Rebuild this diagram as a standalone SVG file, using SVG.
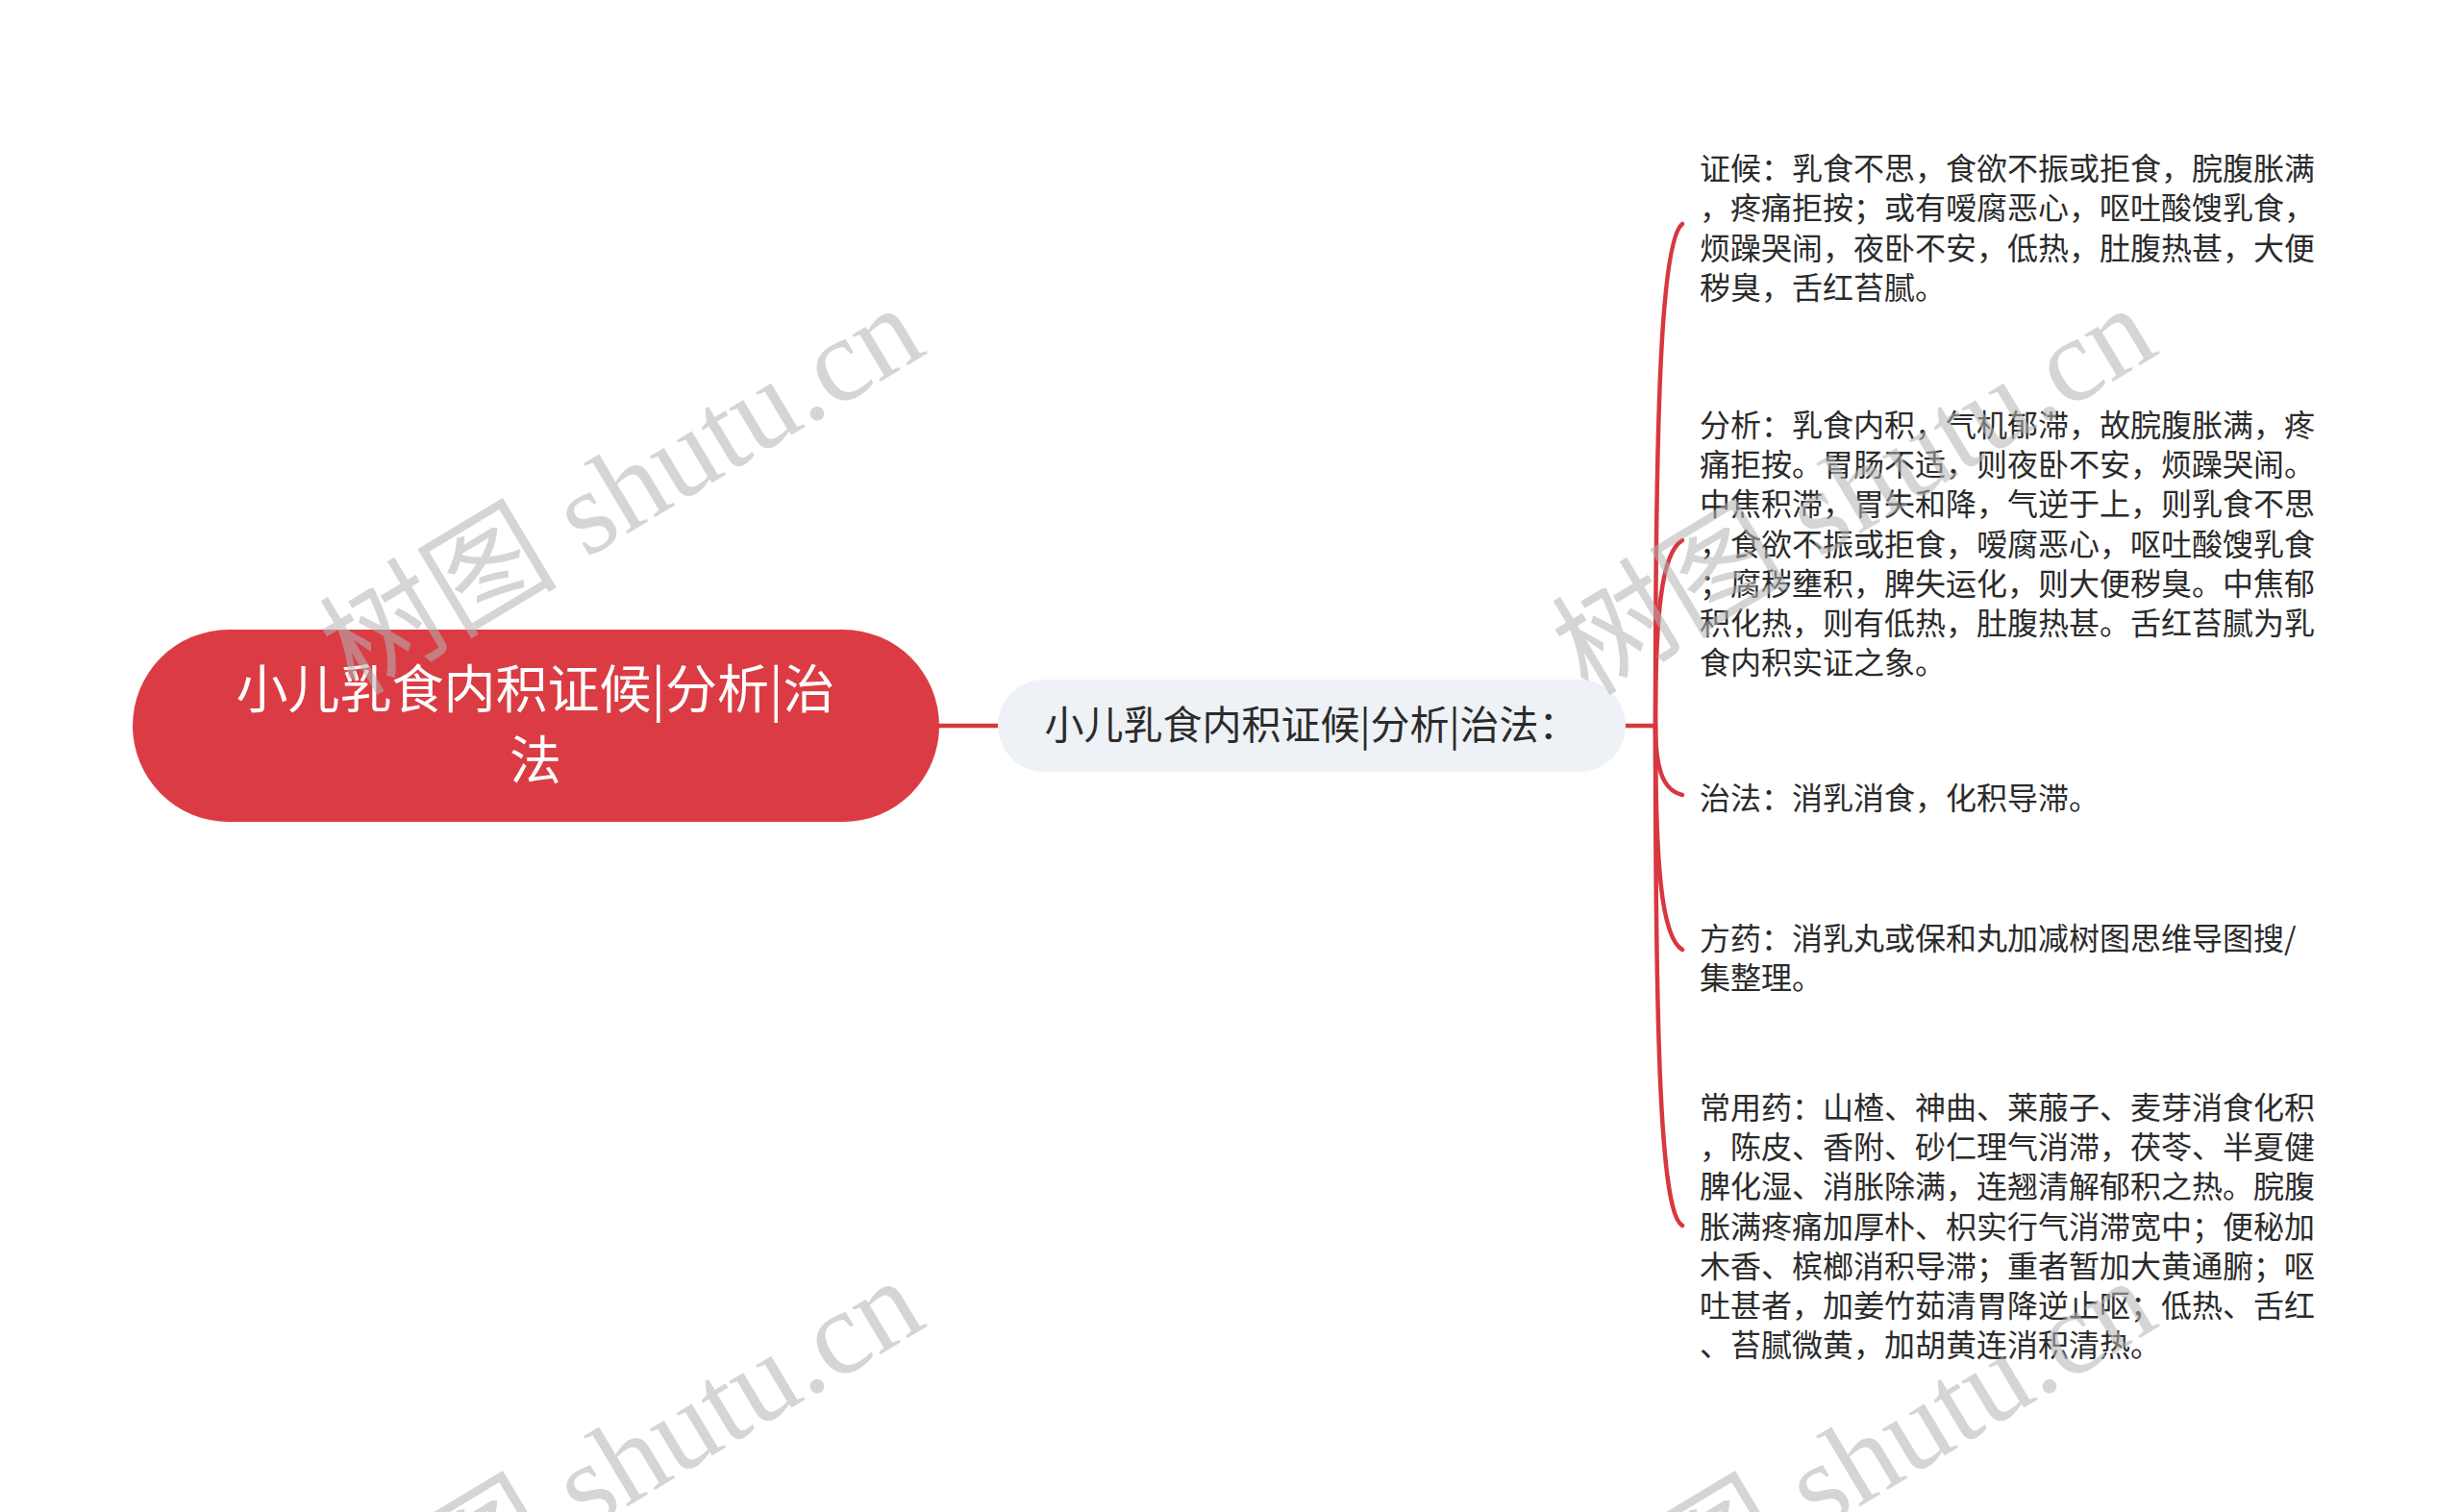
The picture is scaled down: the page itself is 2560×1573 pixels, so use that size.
<svg xmlns="http://www.w3.org/2000/svg" width="2560" height="1573" viewBox="0 0 2560 1573">
<style>
.bg{fill:#ffffff}
.root-box{fill:#db3c44}
.root-txt{fill:#ffffff;font-family:"Noto Sans CJK SC","Noto Sans",sans-serif;font-size:54px}
.sub-box{fill:#eef1f5}
.sub-txt{fill:#2b2b2b;font-family:"Noto Sans CJK SC","Noto Sans",sans-serif;font-size:41px}
.leaf{fill:#2b2b2b;font-family:"Noto Sans CJK SC","Noto Sans",sans-serif;font-size:32px}
.link{fill:none;stroke:#d8373f;stroke-width:4.5;stroke-linecap:round}
.wm{fill:#b4b4b4;opacity:0.55;font-family:"Liberation Serif","Noto Sans CJK SC",serif;font-size:124px}
</style>
<rect class="bg" x="0" y="0" width="2560" height="1573"/>

<g id="connectors">
  <line class="link" x1="977" y1="755" x2="1038" y2="755"/>
  <line class="link" x1="1691" y1="755" x2="1722" y2="755"/>
  <path class="link" d="M1722 755 C1722 420 1728 250 1750 233"/>
  <path class="link" d="M1722 755 C1722 640 1728 575 1750 562"/>
  <path class="link" d="M1722 755 C1722 795 1728 822 1750 827"/>
  <path class="link" d="M1722 755 C1722 900 1728 975 1750 988"/>
  <path class="link" d="M1722 755 C1722 1100 1728 1262 1750 1275"/>
</g>

<g id="node-root">
  <rect class="root-box" x="138" y="655" width="839" height="200" rx="100" ry="100"/>
  <text class="root-txt" text-anchor="middle" x="557" y="737">小儿乳食内积证候|分析|治</text>
  <text class="root-txt" text-anchor="middle" x="557" y="811">法</text>
</g>

<g id="node-sub">
  <rect class="sub-box" x="1038" y="707" width="653" height="96" rx="48" ry="48"/>
  <text class="sub-txt" text-anchor="middle" x="1364" y="769">小儿乳食内积证候|分析|治法：</text>
</g>

<g id="node-zhenghou">
  <text class="leaf" x="1768" y="187">证候：乳食不思，食欲不振或拒食，脘腹胀满</text>
  <text class="leaf" x="1768" y="228">，疼痛拒按；或有嗳腐恶心，呕吐酸馊乳食，</text>
  <text class="leaf" x="1768" y="270">烦躁哭闹，夜卧不安，低热，肚腹热甚，大便</text>
  <text class="leaf" x="1768" y="311">秽臭，舌红苔腻。</text>
</g>

<g id="node-fenxi">
  <text class="leaf" x="1768" y="454">分析：乳食内积，气机郁滞，故脘腹胀满，疼</text>
  <text class="leaf" x="1768" y="495">痛拒按。胃肠不适，则夜卧不安，烦躁哭闹。</text>
  <text class="leaf" x="1768" y="536">中焦积滞，胃失和降，气逆于上，则乳食不思</text>
  <text class="leaf" x="1768" y="578">，食欲不振或拒食，嗳腐恶心，呕吐酸馊乳食</text>
  <text class="leaf" x="1768" y="619">；腐秽壅积，脾失运化，则大便秽臭。中焦郁</text>
  <text class="leaf" x="1768" y="660">积化热，则有低热，肚腹热甚。舌红苔腻为乳</text>
  <text class="leaf" x="1768" y="701">食内积实证之象。</text>
</g>

<g id="node-zhifa">
  <text class="leaf" x="1768" y="842">治法：消乳消食，化积导滞。</text>
</g>

<g id="node-fangyao">
  <text class="leaf" x="1768" y="988">方药：消乳丸或保和丸加减树图思维导图搜/</text>
  <text class="leaf" x="1768" y="1029">集整理。</text>
</g>

<g id="node-changyong">
  <text class="leaf" x="1768" y="1164">常用药：山楂、神曲、莱菔子、麦芽消食化积</text>
  <text class="leaf" x="1768" y="1205">，陈皮、香附、砂仁理气消滞，茯苓、半夏健</text>
  <text class="leaf" x="1768" y="1246">脾化湿、消胀除满，连翘清解郁积之热。脘腹</text>
  <text class="leaf" x="1768" y="1288">胀满疼痛加厚朴、枳实行气消滞宽中；便秘加</text>
  <text class="leaf" x="1768" y="1329">木香、槟榔消积导滞；重者暂加大黄通腑；呕</text>
  <text class="leaf" x="1768" y="1370">吐甚者，加姜竹茹清胃降逆止呕；低热、舌红</text>
  <text class="leaf" x="1768" y="1411">、苔腻微黄，加胡黄连消积清热。</text>
</g>

<g id="watermarks">
  <text class="wm" transform="translate(370 725) rotate(-31)">树图 shutu.cn</text>
  <text class="wm" transform="translate(1652 725) rotate(-31)">树图 shutu.cn</text>
  <text class="wm" transform="translate(370 1737) rotate(-31)">树图 shutu.cn</text>
  <text class="wm" transform="translate(1652 1737) rotate(-31)">树图 shutu.cn</text>
</g>
</svg>
